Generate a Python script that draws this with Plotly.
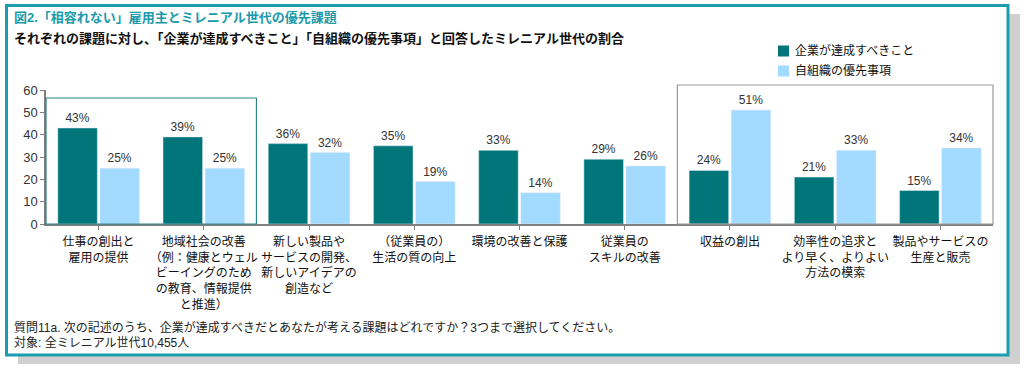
import plotly.graph_objects as go

categories = [
    "仕事の創出と<br>雇用の提供",
    "地域社会の改善<br>（例：健康とウェル<br>ビーイングのため<br>の教育、情報提供<br>と推進）",
    "新しい製品や<br>サービスの開発、<br>新しいアイデアの<br>創造など",
    "（従業員の）<br>生活の質の向上",
    "環境の改善と保護",
    "従業員の<br>スキルの改善",
    "収益の創出",
    "効率性の追求と<br>より早く、よりよい<br>方法の模索",
    "製品やサービスの<br>生産と販売",
]
series_names = ["企業が達成すべきこと", "自組織の優先事項"]
business_should = [43, 39, 36, 35, 33, 29, 24, 21, 15]
own_org_priority = [25, 25, 32, 19, 14, 26, 51, 33, 34]
y_ticks = [0, 10, 20, 30, 40, 50, 60]

title = "図2.「相容れない」雇用主とミレニアル世代の優先課題"
subtitle = "それぞれの課題に対し、「企業が達成すべきこと」「自組織の優先事項」と回答したミレニアル世代の割合"
note1 = "質問11a. 次の記述のうち、企業が達成すべきだとあなたが考える課題はどれですか？3つまで選択してください。"
note2 = "対象: 全ミレニアル世代10,455人"

W, H = 1024, 369
L, R, T, B = 46, 31, 90, 145
PW, PH = W - L - R, H - T - B

def px(x):
    return (x - L) / PW

def py(y):
    return (H - B - y) / PH

FONT = "Liberation Sans, Arial, Noto Sans CJK JP, sans-serif"
DARK = "#00767A"
LIGHT = "#A3DAFF"
FRAME = "#1A9EAF"
COLORS = [DARK, LIGHT]

xs = list(range(len(categories)))

fig = go.Figure()
for name, vals, col in zip(series_names, [business_should, own_org_priority], COLORS):
    fig.add_trace(go.Bar(
        x=xs, y=vals, name=name, marker_color=col, showlegend=False,
        text=[f"{v}%" for v in vals], textposition="outside",
        textfont=dict(size=12, color="#333333", family=FONT), cliponaxis=False,
    ))

shapes = [
    # shadow
    dict(type="rect", xref="paper", yref="paper", x0=px(18), x1=px(1020), y0=py(364), y1=py(14),
         fillcolor="#D0D0D0", line=dict(width=0), layer="below"),
    # frame
    dict(type="rect", xref="paper", yref="paper", x0=px(6.5), x1=px(1008), y0=py(355), y1=py(5.5),
         fillcolor="white", line=dict(color=FRAME, width=3), layer="below"),
    # teal box around first two categories
    dict(type="rect", xref="paper", yref="paper", x0=0, x1=2 / 9, y0=0, y1=py(98),
         fillcolor="rgba(0,0,0,0)", line=dict(color="#2E8587", width=1.2), layer="above"),
    # gray box around last three categories
    dict(type="rect", xref="paper", yref="paper", x0=6 / 9, x1=1, y0=0, y1=py(85),
         fillcolor="rgba(0,0,0,0)", line=dict(color="#9A9A9A", width=1.2), layer="above"),
]

annotations = [
    dict(text=f"<b>{title}</b>", xref="paper", yref="paper", x=px(12), y=py(17),
         xanchor="left", yanchor="middle", showarrow=False,
         font=dict(size=13, color="#1A9AAA", family=FONT)),
    dict(text=f"<b>{subtitle}</b>", xref="paper", yref="paper", x=px(12), y=py(38),
         xanchor="left", yanchor="middle", showarrow=False,
         font=dict(size=13, color="#111111", family=FONT)),
    dict(text=note1, xref="paper", yref="paper", x=px(12), y=py(327),
         xanchor="left", yanchor="middle", showarrow=False,
         font=dict(size=12, color="#222222", family=FONT)),
    dict(text=note2, xref="paper", yref="paper", x=px(12), y=py(343),
         xanchor="left", yanchor="middle", showarrow=False,
         font=dict(size=12, color="#222222", family=FONT)),
]

# manual legend
for i, (name, col) in enumerate(zip(series_names, COLORS)):
    yc = 51 + i * 20
    shapes.append(dict(type="rect", xref="paper", yref="paper",
                       x0=px(778), x1=px(789), y0=py(yc + 5.5), y1=py(yc - 5.5),
                       fillcolor=col, line=dict(width=0), layer="above"))
    annotations.append(dict(text=name, xref="paper", yref="paper", x=px(793), y=py(yc),
                            xanchor="left", yanchor="middle", showarrow=False,
                            font=dict(size=12, color="#111111", family=FONT)))

fig.update_layout(
    width=W, height=H,
    margin=dict(l=L, r=R, t=T, b=B, autoexpand=False),
    paper_bgcolor="white", plot_bgcolor="rgba(0,0,0,0)",
    barmode="group", bargap=0.2, bargroupgap=0.06,
    font=dict(family=FONT, size=12, color="#222222"),
    showlegend=False,
    shapes=shapes, annotations=annotations,
    xaxis=dict(
        tickmode="array", tickvals=xs, ticktext=categories, range=[-0.5, 8.5],
        showline=True, linecolor="#808080", linewidth=1.5,
        ticks="outside", ticklen=4, tickcolor="#808080", tickson="boundaries",
        ticklabelstandoff=2,
        tickfont=dict(size=12, color="#111111", family=FONT), showgrid=False, zeroline=False,
    ),
    yaxis=dict(
        range=[0, 60], tickvals=y_ticks, showline=True, linecolor="#808080", linewidth=1.5,
        ticks="outside", ticklen=4, tickcolor="#808080",
        tickfont=dict(size=13, color="#333333", family=FONT), showgrid=False, zeroline=False,
    ),
)

fig.write_html("out.html", config={"displayModeBar": False},
               post_script="document.body.style.margin='0';")
